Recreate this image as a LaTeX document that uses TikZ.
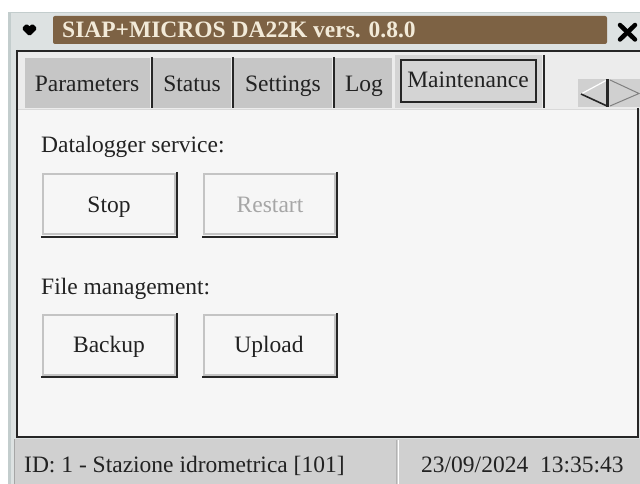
\documentclass[tikz,border=0pt]{standalone}
\usepackage{fontspec}
\setmainfont{Liberation Serif}
\definecolor{framebg}{HTML}{DDE2E2}
\definecolor{frameedge}{HTML}{C3CDCD}
\definecolor{titlebrown}{HTML}{7D6244}
\definecolor{titletext}{HTML}{F2EAD8}
\definecolor{tabgray}{HTML}{C6C6C6}
\definecolor{tabsel}{HTML}{D4D4D4}
\definecolor{panelbg}{HTML}{F6F6F6}
\definecolor{statusbg}{HTML}{D0D0D0}
\definecolor{btnedge}{HTML}{C4C4C4}
\definecolor{dimtext}{HTML}{A6A6A6}
\definecolor{inktext}{HTML}{222222}
\tikzset{
  lbl/.style={anchor=base west, inner sep=0pt, text=inktext, font=\fontsize{23.5}{27}\selectfont},
  ctr/.style={anchor=base, inner sep=0pt, text=inktext, font=\fontsize{23.5}{27}\selectfont},
  tabbox/.style={fill=tabgray, draw=none},
  divider/.style={draw=black!85, line width=2pt},
  btnface/.style={draw=btnedge, line width=1.2pt, fill=panelbg},
  btnshade/.style={draw=black!85, line width=2pt},
  blackedge/.style={draw=black!85, line width=2.4pt}
}
\begin{document}
\begin{tikzpicture}[x=1pt,y=-1pt]
\useasboundingbox (0,0) rectangle (640,484);
\fill[white] (0,0) rectangle (640,484);
% outer window frame
\fill[framebg] (8,12) rectangle (640,484);
\fill[frameedge] (8,12) rectangle (11,484);
\draw[frameedge, line width=1pt] (8,12.5) -- (640,12.5);
% title bar
\draw[black, line width=3.5pt, line cap=round, line join=round, fill=black]
  (24,28.5) -- (26.5,26) -- (29.5,28.5) -- (32.5,26) -- (35,28.5) -- (29.5,34) -- cycle;
\fill[titlebrown, rounded corners=2pt] (53,16) rectangle (607,44);
\node[lbl, text=titletext, font=\fontsize{23.5}{27}\selectfont\bfseries] (title) at (62,38) {SIAP+MICROS DA22K vers. 0.8.0};
\coordinate (x1) at (620,25); \coordinate (x2) at (635,39.5);
\coordinate (x3) at (635,25); \coordinate (x4) at (620,39.5);
\draw[line width=4.5pt, line cap=round] (x1) -- (x2);
\draw[line width=4.5pt, line cap=round] (x3) -- (x4);
% notebook tab row
\fill[panelbg!96!black] (17,51) rectangle (640,110);
\fill[tabbox] (25,58) rectangle (150,108);
\fill[tabbox] (153,58) rectangle (231,108);
\fill[tabbox] (234,58) rectangle (332,108);
\fill[tabbox] (335,58) rectangle (392,108);
\fill[tabsel] (395,55) rectangle (542,108);
\draw[black!85, line width=1.6pt] (401,60) rectangle (536,102);
\draw[divider] (151.5,57) -- (151.5,108);
\draw[divider] (232.5,57) -- (232.5,108);
\draw[divider] (333.5,57) -- (333.5,108);
\draw[divider] (543.5,55) -- (543.5,108);
\node[ctr] (tparam) at (87,92) {Parameters};
\node[ctr] (tstatus) at (192,92) {Status};
\node[ctr] (tsettings) at (283,92) {Settings};
\node[ctr] (tlog) at (364,92) {Log};
\node[ctr] (tmaint) at (468,88) {Maintenance};
% scroll arrows
\fill[statusbg] (578,79) rectangle (640,107);
\draw[white, line width=1.2pt] (607,80) -- (581,94);
\draw[black!85, line width=1.6pt] (581,94) -- (607,106);
\draw[black!50, line width=1pt] (610,80) -- (639,93.5) -- (610,106);
\draw[black!85, line width=2.4pt] (607.5,79.5) -- (607.5,107);
% content panel
\fill[panelbg] (18,110) rectangle (637,436);
\draw[black!15, line width=1pt] (18,109.5) -- (640,109.5);
\draw[blackedge] (17,51) -- (640,51);
\draw[blackedge] (17,50) -- (17,438);
\draw[blackedge] (16,437) -- (639,437);
\draw[blackedge] (638,108) -- (638,438);
% section labels
\node[lbl] (dsvc) at (41,153) {Datalogger service:};
\node[lbl] (fmgmt) at (41,294) {File management:};
% buttons
\draw[btnface] (43,174) rectangle (175,234);
\draw[btnshade] (177,172) -- (177,238) (41,237) -- (178,237);
\node[ctr] (stop) at (109,212) {Stop};
\draw[btnface] (204,174) rectangle (335,234);
\draw[btnshade] (337,172) -- (337,238) (202,237) -- (338,237);
\node[ctr, text=dimtext] (restart) at (270,212) {Restart};
\draw[btnface] (43,315) rectangle (175,375);
\draw[btnshade] (177,313) -- (177,378) (41,377) -- (178,377);
\node[ctr] (backup) at (109,352) {Backup};
\draw[btnface] (204,315) rectangle (335,375);
\draw[btnshade] (337,313) -- (337,378) (202,377) -- (338,377);
\node[ctr] (upload) at (269,352) {Upload};
% status bar
\fill[statusbg] (15,439) rectangle (640,484);
\draw[black!35, line width=1pt] (14.5,439) -- (14.5,484);
\draw[black!30, line width=1pt] (396.5,440) -- (396.5,484);
\draw[white, line width=1.5pt] (398.5,440) -- (398.5,484);
\node[lbl] (sid) at (24,472) {ID: 1 - Stazione idrometrica [101]};
\node[lbl] (sdate) at (421,472) {23/09/2024\ \ 13:35:43};
\end{tikzpicture}
\end{document}
